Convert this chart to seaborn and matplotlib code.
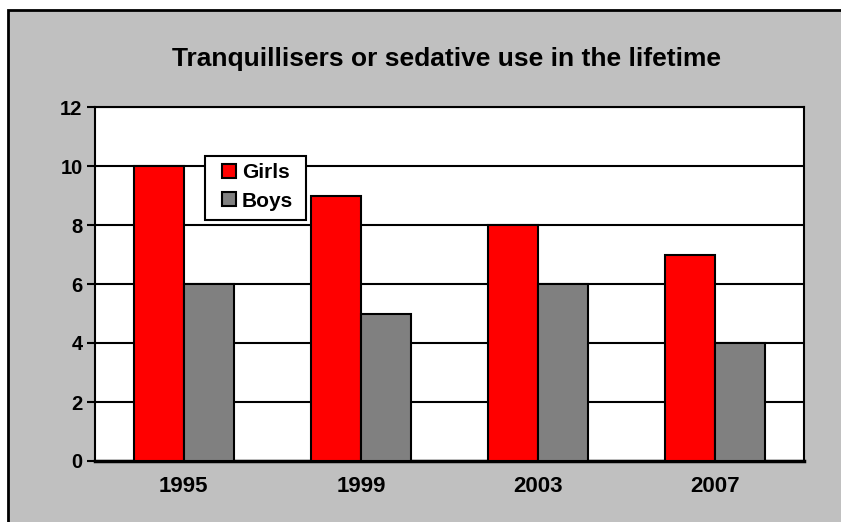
import pandas as pd
import matplotlib
matplotlib.use("Agg")
import matplotlib.pyplot as plt
import matplotlib.patches as mpatches
import seaborn as sns

# data
years = ["1995", "1999", "2003", "2007"]
girls = [10, 9, 8, 7]
boys = [6, 5, 6, 4]
groups = ["Girls", "Boys"]
colors = ["#FF0000", "#808080"]
yticks = [0, 2, 4, 6, 8, 10, 12]

sns.set_style("white")
plt.rcParams["font.family"] = ["Liberation Sans", "DejaVu Sans"]
plt.rcParams["font.weight"] = "bold"

data = pd.DataFrame({
    "year": years * 2,
    "value": girls + boys,
    "group": [groups[0]] * len(years) + [groups[1]] * len(years),
})

W, H = 841, 522
fig = plt.figure(figsize=(W / 100, H / 100), dpi=100, facecolor="white")
# grey chart area with black border (right/bottom run off the image)
fig.patches.append(mpatches.Rectangle((8 / W, -0.05), 1.05, (H - 10) / H + 0.05,
                                      transform=fig.transFigure, facecolor="#C0C0C0",
                                      edgecolor="black", linewidth=2, zorder=-10))

# plot area in pixels: x 95..804, y 107..461
ax = fig.add_axes([95 / W, (H - 461) / H, (804 - 95) / W, (461 - 107) / H])
ax.set_facecolor("white")

sns.barplot(data=data, x="year", y="value", hue="group", palette=colors,
            saturation=1, width=0.565, edgecolor="black", linewidth=1.5, gap=0,
            ax=ax, legend=False, zorder=3)

ax.set_ylim(0, 12)
ax.set_xlim(-0.5, 3.5)
ax.set_yticks(yticks)
ax.set_yticklabels([str(t) for t in yticks], fontsize=14.5, fontweight="bold", color="black")
ax.set_xticks(range(len(years)))
ax.set_xticklabels(years, fontsize=16, fontweight="bold", color="black")
ax.set_xticks([i - 0.5 for i in range(len(years) + 1)], minor=True)
ax.tick_params(axis="x", which="major", length=0, pad=11)
ax.tick_params(axis="x", which="minor", length=5, width=1.5, direction="out", color="black")
ax.tick_params(axis="y", length=6, width=1.5, direction="out", color="black", pad=3, left=True)
ax.set_xlabel("")
ax.set_ylabel("")

ax.yaxis.grid(True, color="black", linewidth=1.5, zorder=1)
ax.set_axisbelow(True)
for side in ["top", "right", "left"]:
    ax.spines[side].set_color("black")
    ax.spines[side].set_linewidth(1.5)
ax.spines["bottom"].set_color("black")
ax.spines["bottom"].set_linewidth(2.5)

# legend box drawn as a patch (pixels x 205..306, y 156..220), entries placed inside
def ax_x(px):
    return (px - 95) / (804 - 95)

def ax_y(py):
    return (461 - py) / (461 - 107)

ax.add_patch(mpatches.Rectangle((ax_x(205), ax_y(220)), ax_x(306) - ax_x(205),
                                ax_y(156) - ax_y(220), transform=ax.transAxes,
                                facecolor="white", edgecolor="black", linewidth=1.5,
                                zorder=5))
handles = [mpatches.Patch(facecolor=c, edgecolor="black", linewidth=1.5, label=g)
           for c, g in zip(colors, groups)]
leg = ax.legend(handles=handles, loc="upper left", bbox_to_anchor=(ax_x(222), ax_y(163)),
                frameon=False, prop={"weight": "bold", "size": 15},
                handlelength=0.67, handleheight=0.67, handletextpad=0.29,
                borderpad=0, labelspacing=0.46, borderaxespad=0)
leg.set_zorder(6)
for t in leg.get_texts():
    t.set_color("black")

fig.text(447 / W, 1 - 66 / H, "Tranquillisers or sedative use in the lifetime",
         ha="center", va="baseline", fontsize=19, fontweight="bold", color="black")

fig.savefig("out.png", dpi=100, facecolor=fig.get_facecolor())
